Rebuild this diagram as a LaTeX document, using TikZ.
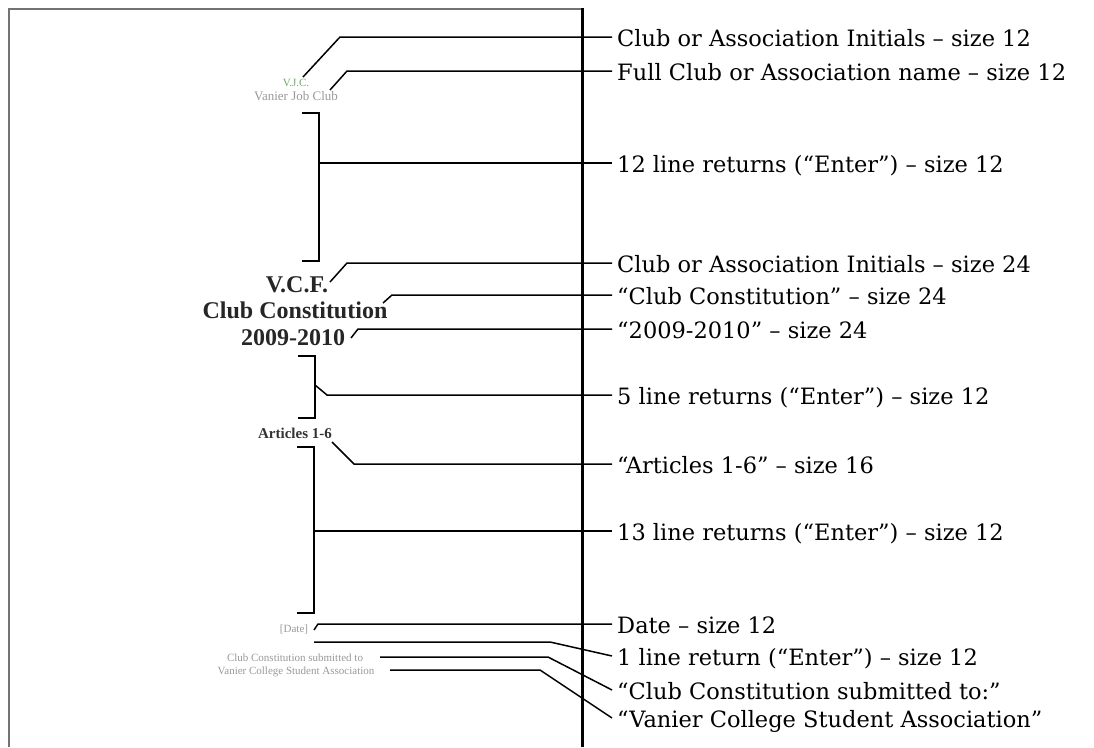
\documentclass[tikz,border=0pt]{standalone}
\usepackage{fontspec}
\setmainfont{DejaVu Serif}
\newfontfamily\tnr{Liberation Serif}
\definecolor{vjcgreen}{RGB}{110,170,100}
\begin{document}
\begin{tikzpicture}[x=1pt,y=-1pt,
  lead/.style={line width=1.5pt,black},
  brk/.style={line width=1.8pt,black},
  lbl/.style={anchor=west,inner xsep=5pt,inner ysep=0pt,font=\fontsize{22.5}{24}\selectfont,text height=19pt,text depth=0pt},
  faint/.style={anchor=base,inner sep=0pt,text=black!40,font=\tnr\fontsize{11}{12}\selectfont},
  title/.style={anchor=base,inner sep=0pt,text=black!85,font=\tnr\bfseries\fontsize{24}{26}\selectfont}]
\useasboundingbox (0,0) rectangle (1094,747);
\fill[white] (0,0) rectangle (1094,747);
% page edges
\draw[line width=2pt,black!55] (9,747) -- (9,9) -- (582,9);
\draw[line width=3pt,black] (582,8) -- (582,747);
% page texts
\node[faint,text=vjcgreen,font=\tnr\fontsize{11}{12}\selectfont] (vjc) at (296,86) {V.J.C.};
\node[faint,font=\tnr\fontsize{13}{14}\selectfont] (vjb) at (296,100) {Vanier Job Club};
\node[title] (vcf) at (297,292) {V.C.F.};
\node[title] (cc) at (295,318) {Club Constitution};
\node[title] (yr) at (293,345) {2009-2010};
\node[anchor=base,inner sep=0pt,text=black!80,font=\tnr\bfseries\fontsize{15}{16}\selectfont] (art) at (295,438) {Articles 1-6};
\node[faint] (date) at (294,632) {[Date]};
\node[faint] (sub) at (295,661) {Club Constitution submitted to};
\node[faint] (vcsa) at (296,674) {Vanier College Student Association};
% labels
\node[lbl] (l1) at (612,37) {Club or Association Initials – size 12};
\node[lbl] (l2) at (612,71) {Full Club or Association name – size 12};
\node[lbl] (l3) at (612,163) {12 line returns (“Enter”) – size 12};
\node[lbl] (l4) at (612,263) {Club or Association Initials – size 24};
\node[lbl] (l5) at (612,295) {“Club Constitution” – size 24};
\node[lbl] (l6) at (612,329) {“2009-2010” – size 24};
\node[lbl] (l7) at (612,395) {5 line returns (“Enter”) – size 12};
\node[lbl] (l8) at (612,464) {“Articles 1-6” – size 16};
\node[lbl] (l9) at (612,531) {13 line returns (“Enter”) – size 12};
\node[lbl] (l10) at (612,624) {Date – size 12};
\node[lbl] (l11) at (612,656) {1 line return (“Enter”) – size 12};
\node[lbl] (l12) at (612,690) {“Club Constitution submitted to:”};
\node[lbl] (l13) at (612,718) {“Vanier College Student Association”};
% brackets
\draw[brk] (302,113) -- (319,113) -- (319,261) -- (302,261);
\draw[brk] (298,356) -- (315,356) -- (315,418) -- (298,418);
\draw[brk] (297,447) -- (314,447) -- (314,613) -- (297,613);
% anchor points
\coordinate (p1) at (303,77);
\coordinate (p2) at (330,90);
\coordinate (p3) at (319,163);
\coordinate (p4) at (330,282);
\coordinate (p5) at (383,303);
\coordinate (p6) at (351,338);
\coordinate (p7) at (315,385);
\coordinate (p8) at (332,442);
\coordinate (p9) at (314,531);
\coordinate (p10) at (314,630);
\coordinate (p11) at (314,642);
\coordinate (p12) at (380,657);
\coordinate (p13) at (390,670);
% leaders
\draw[lead] (p1) -- (340,37) -- (l1.west);
\draw[lead] (p2) -- (347,71) -- (l2.west);
\draw[lead] (p3) -- (l3.west);
\draw[lead] (p4) -- (347,263) -- (l4.west);
\draw[lead] (p5) -- (392,295) -- (l5.west);
\draw[lead] (p6) -- (358,329) -- (l6.west);
\draw[lead] (p7) -- (327,395) -- (l7.west);
\draw[lead] (p8) -- (354,464) -- (l8.west);
\draw[lead] (p9) -- (l9.west);
\draw[lead] (p10) -- (318,624) -- (l10.west);
\draw[lead] (p11) -- (550,642) -- (l11.west);
\draw[lead] (p12) -- (548,657) -- (l12.west);
\draw[lead] (p13) -- (540,670) -- (l13.west);
\end{tikzpicture}
\end{document}
